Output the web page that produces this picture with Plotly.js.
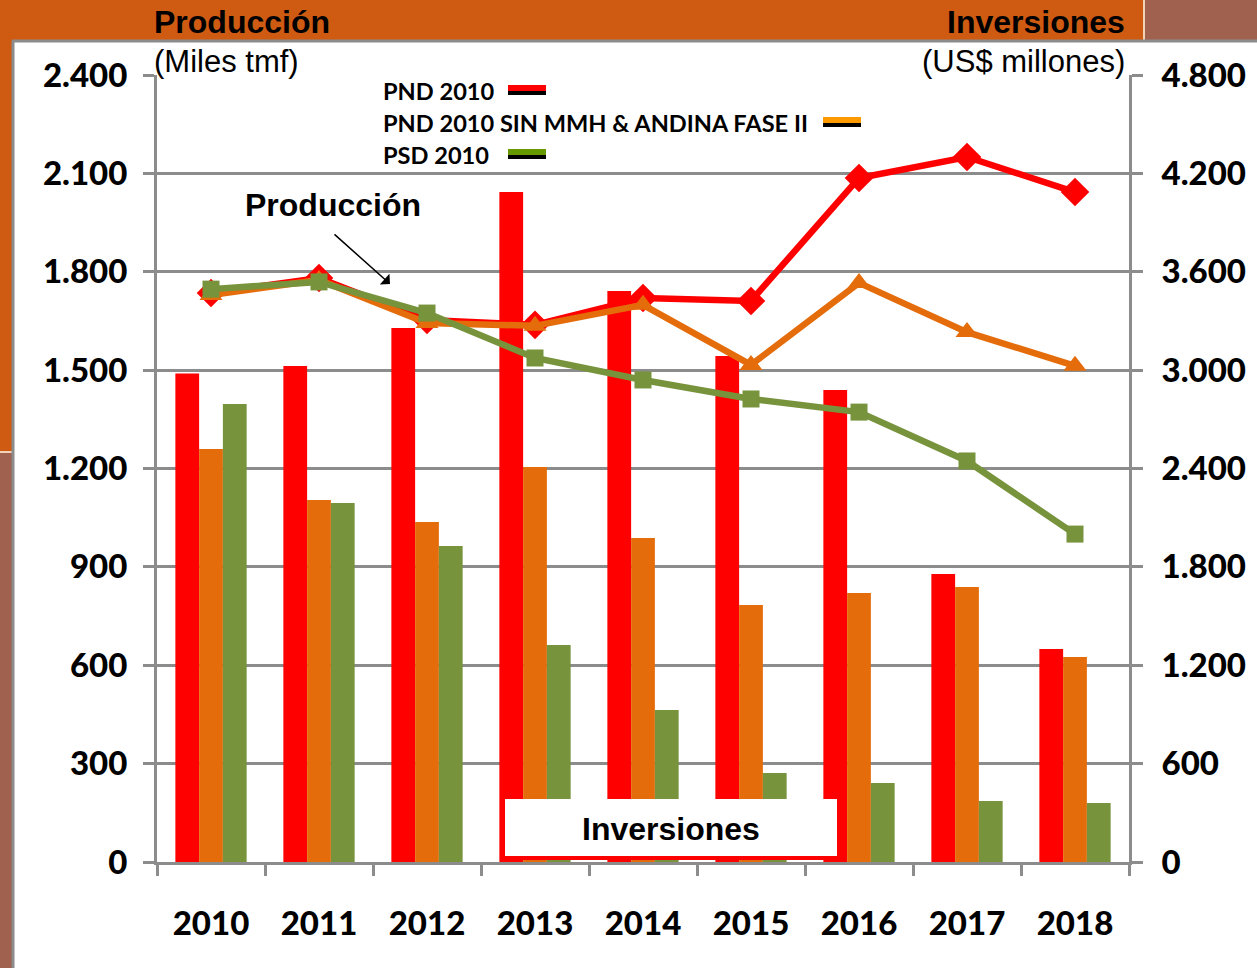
<!DOCTYPE html>
<html>
<head>
<meta charset="utf-8">
<script src="https://cdn.plot.ly/plotly-3.0.1.min.js"></script>
<style>
  body { margin: 0; background: #fff; }
  #grafico { width: 1257px; height: 968px; }
</style>
</head>
<body>
<div id="grafico"></div>
<script>
const years = ['2010', '2011', '2012', '2013', '2014', '2015', '2016', '2017', '2018']

// Inversiones (US$ millones) - barras
const invPnd = [2980, 3025, 3257, 4086, 3483, 3086, 2879, 1757, 1299]
const invSinMmh = [2519, 2208, 2074, 2409, 1976, 1567, 1641, 1677, 1250]
const invPsd = [2793, 2190, 1927, 1323, 927, 543, 482, 372, 360]

// Producción (Miles tmf) - líneas
const prodPnd = [1735, 1781, 1653, 1638, 1720, 1711, 2086, 2150, 2043]
const prodSinMmh = [1729, 1775, 1644, 1635, 1699, 1516, 1766, 1616, 1513]
const prodPsd = [1747, 1769, 1674, 1537, 1470, 1412, 1372, 1223, 1000]

const serieNombres = ['PND 2010', 'PND 2010 SIN MMH & ANDINA FASE II', 'PSD 2010']
const leftTicks = [0, 300, 600, 900, 1200, 1500, 1800, 2100, 2400]
const rightTicks = [0, 600, 1200, 1800, 2400, 3000, 3600, 4200, 4800]

const rojo = '#FF0000'
const naranja = '#E46C0A'
const verde = '#77933C'
const gris = '#8C8C8C'

// pixel -> paper (plot area 157..1129 x 75..862)
const L = 157, R = 1129, T = 75, B = 862
const px = x => (x - L) / (R - L)
const py = y => (B - y) / (B - T)

function barra(y, color, name) {
    return {
        x: years, y: y, type: 'bar', name: name,
        marker: { color: color },
        yaxis: 'y', showlegend: false, hoverinfo: 'y'
    }
}

function linea(y, color, symbol, size, name) {
    return {
        x: years, y: y, type: 'scatter', mode: 'lines+markers', name: name,
        line: { color: color, width: 6.5 },
        marker: { color: color, symbol: symbol, size: size },
        yaxis: 'y2', showlegend: false
    }
}

const data = [
    barra(invPnd, rojo, serieNombres[0]),
    barra(invSinMmh, naranja, serieNombres[1]),
    barra(invPsd, verde, serieNombres[2]),
    linea(prodPnd, rojo, 'diamond', 22, serieNombres[0]),
    linea(prodSinMmh, naranja, 'triangle-up', 20, serieNombres[1]),
    linea(prodPsd, verde, 'square', 17, serieNombres[2])
]

const tickFont = { family: 'Lato, Arial, sans-serif', size: 33, color: '#000', weight: 900 }
const arial = 'Liberation Sans, Arial'

// fondo naranja / marrón del encabezado
const shapes = [
    { type: 'rect', xref: 'paper', yref: 'paper', x0: px(0), x1: px(1143), y0: py(0), y1: py(40), fillcolor: '#CF5B13', line: { width: 0 }, layer: 'below' },
    { type: 'rect', xref: 'paper', yref: 'paper', x0: px(1143), x1: px(1257), y0: py(0), y1: py(40), fillcolor: '#A0624E', line: { width: 0 }, layer: 'below' },
    { type: 'line', xref: 'paper', yref: 'paper', x0: px(1144), x1: px(1144), y0: py(0), y1: py(40), line: { color: '#F3D3B8', width: 2 }, layer: 'below' },
    { type: 'rect', xref: 'paper', yref: 'paper', x0: px(0), x1: px(12), y0: py(40), y1: py(452), fillcolor: '#CF5B13', line: { width: 0 }, layer: 'below' },
    { type: 'rect', xref: 'paper', yref: 'paper', x0: px(0), x1: px(12), y0: py(452), y1: py(968), fillcolor: '#A0624E', line: { width: 0 }, layer: 'below' },
    { type: 'line', xref: 'paper', yref: 'paper', x0: px(0), x1: px(12), y0: py(452), y1: py(452), line: { color: '#F3D3B8', width: 2 }, layer: 'below' },
    { type: 'line', xref: 'paper', yref: 'paper', x0: px(12), x1: px(1257), y0: py(41), y1: py(41), line: { color: gris, width: 3 }, layer: 'below' },
    { type: 'line', xref: 'paper', yref: 'paper', x0: px(13), x1: px(13), y0: py(41), y1: py(968), line: { color: gris, width: 3 }, layer: 'below' },
    // caja "Inversiones"
    { type: 'rect', xref: 'paper', yref: 'paper', x0: px(505), x1: px(838), y0: py(857), y1: py(799), fillcolor: '#FFFFFF', line: { width: 0 }, layer: 'above' },
    { type: 'path', xref: 'paper', yref: 'paper', layer: 'above',
      path: `M ${px(503)},${py(799)} L ${px(503)},${py(858)} L ${px(839)},${py(858)} L ${px(839)},${py(799)}`,
      line: { color: rojo, width: 4 } }
]

// leyenda manual
const legY = [91, 123, 155]
const legSwatchX = [508, 823, 508]
const legColors = [rojo, '#FF9900', '#669900']
legY.forEach((y, i) => {
    shapes.push({ type: 'rect', xref: 'paper', yref: 'paper', x0: px(legSwatchX[i]), x1: px(legSwatchX[i] + 38), y0: py(y + 4), y1: py(y - 1), fillcolor: '#000', line: { width: 0 } })
    shapes.push({ type: 'rect', xref: 'paper', yref: 'paper', x0: px(legSwatchX[i]), x1: px(legSwatchX[i] + 38), y0: py(y), y1: py(y - 6), fillcolor: legColors[i], line: { width: 0 } })
})

const annotations = [
    { xref: 'paper', yref: 'paper', x: px(152), y: py(22), xanchor: 'left', yanchor: 'middle', showarrow: false,
      text: '<b>Producción</b>', font: { family: arial, size: 32, color: '#000' } },
    { xref: 'paper', yref: 'paper', x: px(152), y: py(62), xanchor: 'left', yanchor: 'middle', showarrow: false,
      text: '(Miles tmf)', font: { family: arial, size: 31, color: '#000' } },
    { xref: 'paper', yref: 'paper', x: px(1127), y: py(22), xanchor: 'right', yanchor: 'middle', showarrow: false,
      text: '<b>Inversiones</b>', font: { family: arial, size: 32, color: '#000' } },
    { xref: 'paper', yref: 'paper', x: px(1127), y: py(62), xanchor: 'right', yanchor: 'middle', showarrow: false,
      text: '(US$ millones)', font: { family: arial, size: 31, color: '#000' } },
    { xref: 'paper', yref: 'paper', x: px(243), y: py(205), xanchor: 'left', yanchor: 'middle', showarrow: false,
      text: '<b>Producción</b>', font: { family: arial, size: 32, color: '#000' } },
    { xref: 'paper', yref: 'paper', x: px(390), y: py(284), ax: px(333), ay: py(233), axref: 'paper', ayref: 'paper',
      text: '', showarrow: true, arrowhead: 1, arrowsize: 1.6, arrowwidth: 1.5, arrowcolor: '#000' },
    { xref: 'paper', yref: 'paper', x: px(671), y: py(829), xanchor: 'center', yanchor: 'middle', showarrow: false,
      text: '<b>Inversiones</b>', font: { family: arial, size: 32, color: '#000' } }
]

serieNombres.forEach((n, i) => {
    annotations.push({ xref: 'paper', yref: 'paper', x: px(381), y: py(legY[i]), xanchor: 'left', yanchor: 'middle', showarrow: false,
      text: '<b>' + n + '</b>', font: { family: 'Lato, Arial', size: 23.6, color: '#000' } })
})

const layout = {
    width: 1257, height: 968,
    margin: { l: L, r: 1257 - R, t: T, b: 968 - B },
    paper_bgcolor: '#FFFFFF', plot_bgcolor: '#FFFFFF',
    separators: ',.',
    barmode: 'group', bargap: 0.34, bargroupgap: 0,
    xaxis: {
        type: 'category', range: [-0.5, 8.5], tickson: 'boundaries', ticks: 'outside', ticklen: 11, tickwidth: 3, tickcolor: gris,
        showline: true, linecolor: gris, linewidth: 3, showgrid: false,
        tickfont: tickFont, ticklabelstandoff: 30
    },
    yaxis: {
        side: 'right', range: [0, 4800], tickvals: rightTicks, tickformat: ',d',
        ticks: 'outside', ticklen: 11, tickwidth: 3, tickcolor: gris,
        showline: true, linecolor: gris, linewidth: 3,
        showgrid: true, gridcolor: gris, gridwidth: 3, zeroline: false,
        tickfont: tickFont, ticklabelstandoff: 12
    },
    yaxis2: {
        overlaying: 'y', side: 'left', range: [0, 2400], tickvals: leftTicks, tickformat: ',d',
        ticks: 'outside', ticklen: 11, tickwidth: 3, tickcolor: gris,
        showline: true, linecolor: gris, linewidth: 3, showgrid: false, zeroline: false,
        tickfont: tickFont, ticklabelstandoff: 9
    },
    shapes: shapes,
    annotations: annotations,
    showlegend: false
}

Plotly.newPlot('grafico', data, layout, { displayModeBar: false })
</script>
</body>
</html>
